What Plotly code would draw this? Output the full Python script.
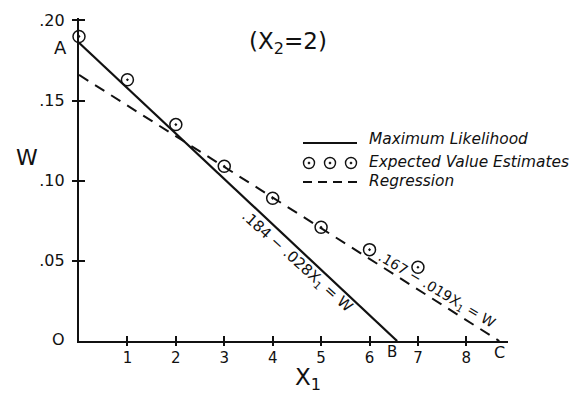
import plotly.graph_objects as go

# ---- data ----
x1_points = [0, 1, 2, 3, 4, 5, 6, 7]
w_expected = [0.190, 0.163, 0.135, 0.109, 0.089, 0.071, 0.057, 0.046]

ml_x = [0, 6.57]
ml_w = [0.186, 0.0]

reg_x = [0, 8.68]
reg_w = [0.166, 0.0]

x_ticks = [1, 2, 3, 4, 5, 6, 7, 8]
x_ticktext = ["1", "2", "3", "4", "5", "6", "7", "8"]
y_ticks = [0.05, 0.10, 0.15, 0.20]
y_ticktext = [".05", ".10", ".15", ".20"]

FONT = "DejaVu Sans"
BLACK = "#111111"

# plot area in screen pixels (used only to place decorations)
PX0, PX1, PY0, PY1 = 79, 508, 18, 341


def paper(xs, ys):
    return (xs - PX0) / (PX1 - PX0), (PY1 - ys) / (PY1 - PY0)


fig = go.Figure()

fig.add_trace(go.Scatter(x=ml_x, y=ml_w, mode="lines",
                         line=dict(color=BLACK, width=2.2), showlegend=False,
                         cliponaxis=False))
fig.add_trace(go.Scatter(x=reg_x, y=reg_w, mode="lines",
                         line=dict(color=BLACK, width=2, dash="11px,8px"),
                         showlegend=False, cliponaxis=False))
fig.add_trace(go.Scatter(x=x1_points, y=w_expected, mode="markers",
                         marker=dict(symbol="circle-open-dot", size=12,
                                     color=BLACK, line=dict(width=1.5, color=BLACK)),
                         showlegend=False, cliponaxis=False))

axis_common = dict(showgrid=False, zeroline=False, showline=True,
                   linecolor=BLACK, linewidth=2.2, tickcolor=BLACK,
                   tickwidth=1.5, ticks="outside", automargin=False)

# the page body adds an 8px offset, so margins are reduced by 8px
fig.update_layout(
    width=579, height=398,
    margin=dict(l=71, r=79, t=10, b=65, autoexpand=False),
    paper_bgcolor="white", plot_bgcolor="white",
    xaxis=dict(range=[0, 8.86], tickvals=x_ticks, ticktext=x_ticktext,
               tickfont=dict(family=FONT, size=15, color=BLACK),
               ticklen=3, ticklabelstandoff=-1, **axis_common),
    yaxis=dict(range=[0, 0.2015], tickvals=y_ticks, ticktext=y_ticktext,
               tickfont=dict(family=FONT, size=16, color=BLACK),
               ticklen=5, ticklabelstandoff=4, **axis_common),
    xaxis2=dict(range=[0, 8.86], overlaying="x", tickvals=x_ticks,
                showticklabels=False, showgrid=False, zeroline=False,
                showline=False, ticks="inside", ticklen=5, tickwidth=1.5,
                tickcolor=BLACK, anchor="y", automargin=False),
    yaxis2=dict(range=[0, 0.2015], overlaying="y", tickvals=y_ticks,
                showticklabels=False, showgrid=False, zeroline=False,
                showline=False, ticks="inside", ticklen=6, tickwidth=1.5,
                tickcolor=BLACK, anchor="x", automargin=False),
    showlegend=False,
)
fig.add_trace(go.Scatter(x=[None], y=[None], xaxis="x2", yaxis="y2",
                         showlegend=False, hoverinfo="skip"))

ann = []


def add_text(text, xs, ys, size, angle=0, italic=False, xanchor="center"):
    px, py = paper(xs, ys)
    t = f"<i>{text}</i>" if italic else text
    ann.append(dict(text=t, x=px, y=py, xref="paper", yref="paper", showarrow=False,
                    textangle=angle, xanchor=xanchor, yanchor="middle",
                    font=dict(family=FONT, size=size, color=BLACK)))


add_text("O", 58, 339, 16)
add_text("A", 60, 48, 18)
add_text("B", 392, 352, 15)
add_text("C", 499, 352, 16)
add_text("W", 27, 157, 22)
add_text("X<sub>1</sub>", 308, 379, 23)
add_text("(X<sub>2</sub>=2)", 288, 43, 23)
add_text(".184 − .028X<sub>1</sub> = W", 297, 261, 15, angle=42)
add_text(".167 − .019X<sub>1</sub> = W", 436, 290, 14, angle=31)

add_text("Maximum Likelihood", 367, 139, 15.4, italic=True, xanchor="left")
add_text("Expected Value Estimates", 367, 162, 15.4, italic=True, xanchor="left")
add_text("Regression", 367, 181, 15.4, italic=True, xanchor="left")
fig.update_layout(annotations=ann)

shapes = []
x0, y0 = paper(303, 143)
x1, _ = paper(357, 143)
shapes.append(dict(type="line", xref="paper", yref="paper", x0=x0, x1=x1,
                   y0=y0, y1=y0, line=dict(color=BLACK, width=2)))
x0, y0 = paper(303, 182)
shapes.append(dict(type="line", xref="paper", yref="paper", x0=x0, x1=x1,
                   y0=y0, y1=y0, line=dict(color=BLACK, width=2, dash="9px,6px")))
for cxs in [309, 330, 351]:
    for r, fill in [(5.5, None), (0.9, BLACK)]:
        a0, b0 = paper(cxs - r, 163 + r)
        a1, b1 = paper(cxs + r, 163 - r)
        s = dict(type="circle", xref="paper", yref="paper",
                 x0=a0, x1=a1, y0=b0, y1=b1,
                 line=dict(color=BLACK, width=1.4 if fill is None else 1))
        if fill:
            s["fillcolor"] = fill
        shapes.append(s)
fig.update_layout(shapes=shapes)

fig.write_html("out.html")
